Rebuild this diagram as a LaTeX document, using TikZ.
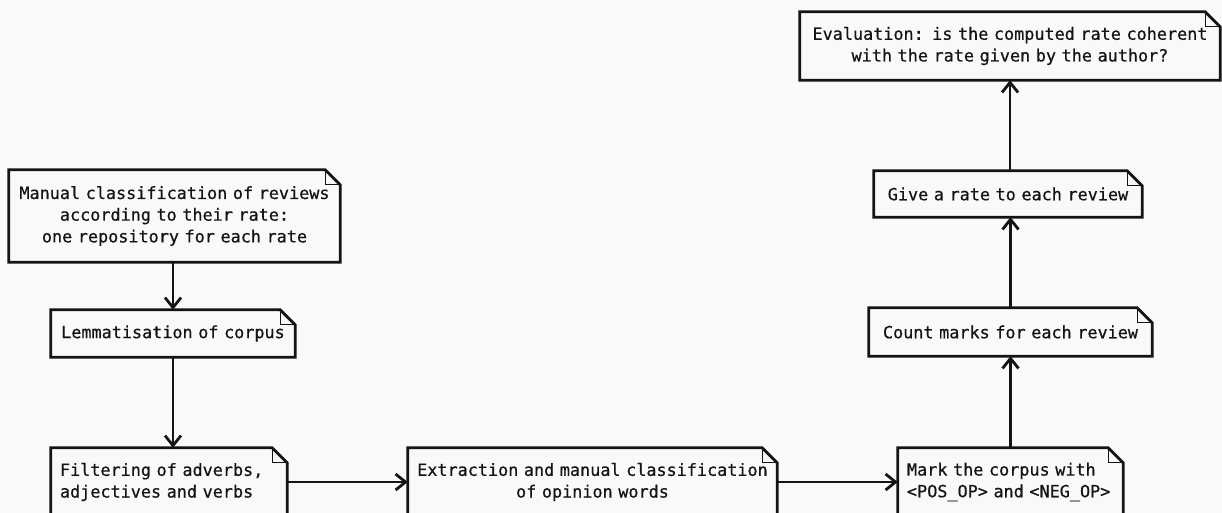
\documentclass[tikz,border=0pt]{standalone}
\usepackage{fontspec}
\usetikzlibrary{arrows.meta}
\newfontfamily\notemono[FakeBold=0.6]{DejaVu Sans Mono}
\definecolor{bgcol}{HTML}{F9F9F9}
\definecolor{inkcol}{HTML}{141414}
\begin{document}
\begin{tikzpicture}[x=1pt,y=-1pt,
  notebox/.style={font={\notemono\fontsize{16.8}{21.7}\selectfont}, text=inkcol, inner xsep=9pt, inner ysep=0pt, align=center},
  outline/.style={draw=inkcol, line width=2.8pt, line join=miter},
  foldline/.style={draw=inkcol, line width=1.1pt},
  arr/.style={draw=inkcol, line width=2.8pt, -{Straight Barb[length=10pt,width=16pt]}}]
\useasboundingbox (0,0) rectangle (1222,513);
\clip (0,0) rectangle (1222,513);
\fill[bgcol] (0,0) rectangle (1222,513);

\node[notebox, text width=313pt, minimum height=92pt] (man) at (174.5,216)
  {Manual classification of reviews\\according to their rate:\\one repository for each rate};
\node[notebox, text width=226pt, minimum height=47pt] (lem) at (173,333.5)
  {Lemmatisation of corpus};
\node[notebox, align=left, text width=218pt, minimum height=68pt] (fil) at (169,482)
  {Filtering of adverbs,\\adjectives and verbs};
\node[notebox, text width=351pt, minimum height=68pt] (ext) at (592.5,482)
  {Extraction and manual classification\\of opinion words};
\node[notebox, align=left, text width=207pt, minimum height=68pt] (mark) at (1010.5,482)
  {Mark the corpus with\\<POS\_OP> and <NEG\_OP>};
\node[notebox, text width=265pt, minimum height=48pt] (count) at (1010.5,332)
  {Count marks for each review};
\node[notebox, text width=250pt, minimum height=46pt] (give) at (1008,194)
  {Give a rate to each review};
\node[notebox, text width=402pt, minimum height=68pt] (eval) at (1010,46)
  {Evaluation: is the computed rate coherent\\with the rate given by the author?};

\foreach \n in {man,lem,fil,ext,mark,count,give,eval}{
  \draw[outline] (\n.north west) -- ([xshift=-15pt]\n.north east) -- ([yshift=-15pt]\n.north east)
    -- (\n.south east) -- (\n.south west) -- cycle;
  \draw[foldline] ([xshift=-15pt]\n.north east) |- ([yshift=-15pt]\n.north east);
}

\draw[arr] (man.south -| lem.north) -- (lem.north);
\draw[arr] (lem.south) -- (lem.south |- fil.north);
\draw[arr] (fil.east) -- (ext.west);
\draw[arr] (ext.east) -- (mark.west);
\draw[arr] (mark.north) -- (count.south);
\draw[arr] (count.north) -- (count.north |- give.south);
\draw[arr] (give.north -| eval.south) -- (eval.south);
\end{tikzpicture}
\end{document}
